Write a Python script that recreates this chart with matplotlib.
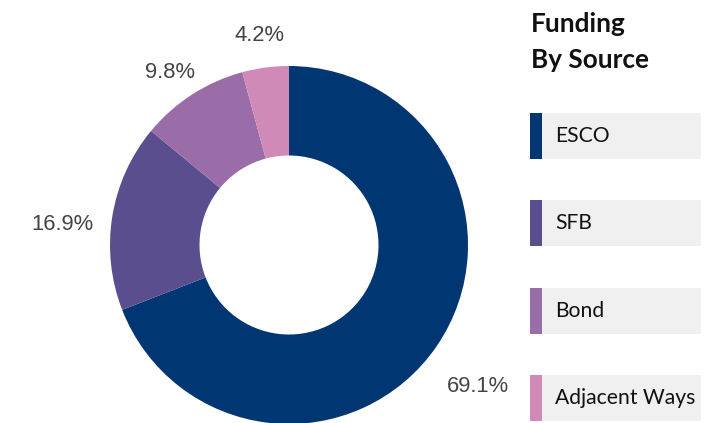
import numpy as np
import matplotlib.pyplot as plt
from matplotlib.patches import Rectangle

sources = ["ESCO", "SFB", "Bond", "Adjacent Ways"]
shares = [69.1, 16.9, 9.8, 4.2]
colors = ["#003671", "#5b4e8e", "#9a6ca8", "#cf8ab8"]
title = "Funding\nBy Source"

W, H = 726, 423
fig = plt.figure(figsize=(W / 100, H / 100), dpi=100)
ax = fig.add_axes([0, 0, 1, 1])

# donut, centre and radius in pixel units (y measured from the bottom)
cx, cy, r = 289, H - 245, 179
wedges, _ = ax.pie(shares, colors=colors, startangle=90, counterclock=False,
                   center=(cx, cy), radius=r, frame=True,
                   wedgeprops=dict(width=r * 0.5, linewidth=0))
ax.set_xlim(0, W)
ax.set_ylim(0, H)
ax.set_aspect("equal")
ax.axis("off")

# percentage labels outside the ring
label_dist = [1.32, 1.27, 1.17, 1.18]
label_shift = [-2.5, 4, 2, 0.6]
for w, val, d, sh in zip(wedges, shares, label_dist, label_shift):
    ang = np.deg2rad((w.theta1 + w.theta2) / 2 + sh)
    ax.text(cx + r * d * np.cos(ang), cy + r * d * np.sin(ang), f"{val:.1f}%",
            ha="center", va="center", fontsize=15.8, color="#444444",
            family="Liberation Sans")

# legend built by hand
ax.text(531, H - 12, title, ha="left", va="top", fontsize=18.8,
        fontweight="bold", family="Lato", color="#111111", linespacing=1.6)

top0, step, bh = 113, 87.3, 46
for i, (name, c) in enumerate(zip(sources, colors)):
    y_top = top0 + i * step
    ax.add_patch(Rectangle((530, H - y_top - bh), 171, bh,
                           facecolor="#f0f0f0", edgecolor="none"))
    ax.add_patch(Rectangle((530, H - y_top - bh), 12, bh,
                           facecolor=c, edgecolor="none"))
    ax.text(555, H - y_top - bh / 2, name, ha="left", va="center",
            fontsize=15.2, family="Lato", color="#111111")

fig.savefig("out.png", dpi=100)
